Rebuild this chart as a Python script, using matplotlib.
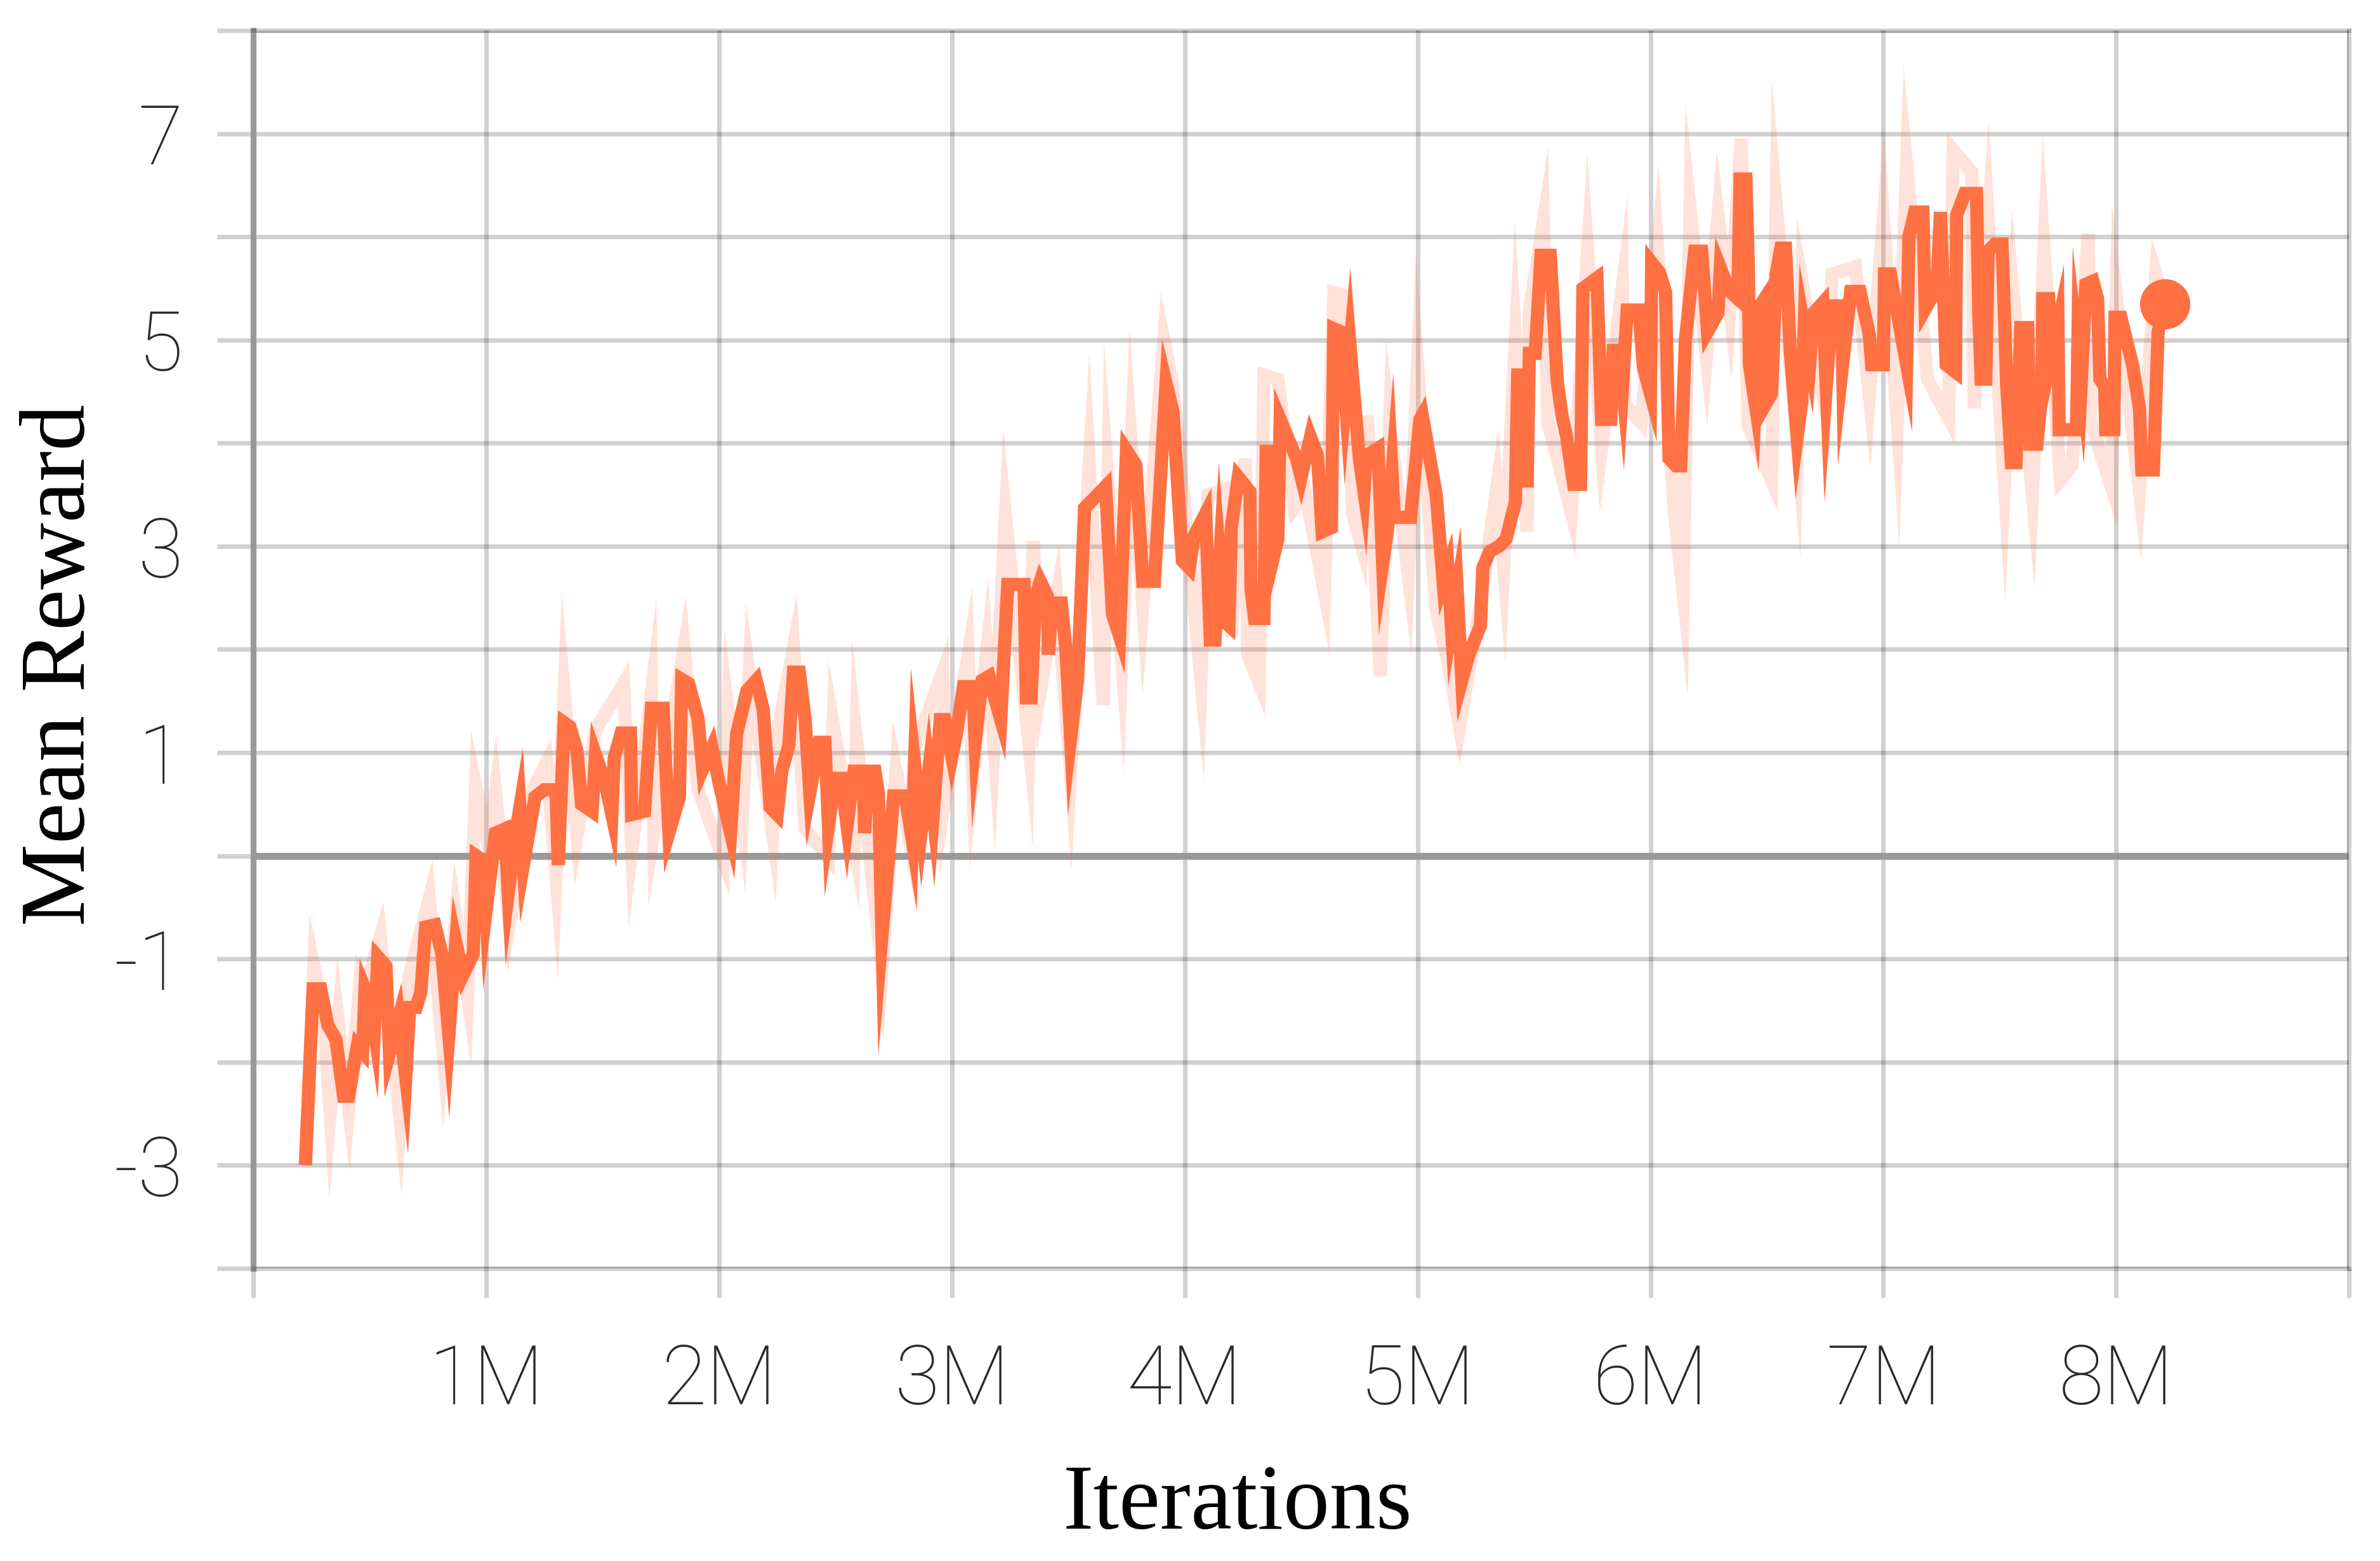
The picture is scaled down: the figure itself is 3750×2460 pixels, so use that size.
import matplotlib
matplotlib.use("Agg")
import matplotlib.pyplot as plt
from matplotlib.ticker import FixedLocator, FuncFormatter

# smoothed curve, x in millions of iterations
steps = [0.224, 0.257, 0.29, 0.32, 0.355, 0.388, 0.41, 0.447, 0.47, 0.48, 0.50, 0.52, 0.535,
         0.57, 0.585, 0.625, 0.655, 0.672, 0.70, 0.72, 0.74, 0.78, 0.81, 0.84, 0.87, 0.90,
         0.945, 0.957, 0.99, 1.0, 1.04, 1.08, 1.095, 1.13, 1.145, 1.16, 1.21, 1.25, 1.30,
         1.31, 1.335, 1.36, 1.39, 1.41, 1.455, 1.47, 1.51, 1.54, 1.55, 1.58, 1.62, 1.625,
         1.68, 1.71, 1.76, 1.785, 1.83, 1.84, 1.87, 1.91, 1.93, 1.97, 2.0, 2.05,
         2.076, 2.12, 2.16, 2.19, 2.22, 2.25, 2.27, 2.30, 2.32, 2.345, 2.37, 2.39, 2.43,
         2.455, 2.47, 2.50, 2.525, 2.55, 2.58, 2.62, 2.625, 2.64, 2.67, 2.685, 2.70, 2.72,
         2.75, 2.80, 2.83, 2.84, 2.87, 2.90, 2.92, 2.95, 2.97, 3.0, 3.02, 3.05, 3.09, 3.10,
         3.13, 3.16, 3.18, 3.21, 3.24, 3.31, 3.32, 3.34, 3.36, 3.38, 3.41, 3.415, 3.43,
         3.47, 3.49, 3.51, 3.54, 3.57, 3.66, 3.69, 3.72, 3.75, 3.79, 3.82, 3.87, 3.92, 3.95,
         3.99, 4.02, 4.04, 4.09, 4.11, 4.13, 4.15, 4.17, 4.19, 4.20, 4.23, 4.28, 4.285,
         4.30, 4.34, 4.35, 4.38, 4.385, 4.40, 4.41, 4.48, 4.50, 4.54, 4.57, 4.59, 4.63,
         4.64, 4.67, 4.69, 4.71, 4.75, 4.77, 4.78, 4.83, 4.85, 4.87, 4.89, 4.90, 4.97,
         5.01, 5.02, 5.08, 5.11, 5.13, 5.145, 5.17, 5.19, 5.22, 5.245, 5.27, 5.28, 5.31,
         5.35, 5.38, 5.42, 5.43, 5.455, 5.47, 5.48, 5.505, 5.53, 5.57, 5.60, 5.62, 5.64,
         5.67, 5.70, 5.71, 5.77, 5.79, 5.83, 5.84, 5.865, 5.88, 5.90, 5.95, 5.97,
         6.00, 6.005, 6.04, 6.065, 6.08, 6.11, 6.13, 6.15, 6.19, 6.22, 6.245, 6.29, 6.30,
         6.34, 6.375, 6.385, 6.41, 6.42, 6.425, 6.45, 6.47, 6.49, 6.50, 6.52, 6.54, 6.56,
         6.58, 6.60, 6.63, 6.65, 6.66, 6.685, 6.70, 6.74, 6.755, 6.78, 6.82, 6.825, 6.86,
         6.90, 6.94, 6.95, 7.00, 7.005, 7.03, 7.06, 7.10, 7.11, 7.135, 7.17, 7.18, 7.23,
         7.245, 7.27, 7.31, 7.315, 7.35, 7.40, 7.41, 7.42, 7.44, 7.45, 7.48, 7.51, 7.53,
         7.55, 7.57, 7.59, 7.62, 7.63, 7.66, 7.68, 7.685, 7.71, 7.72, 7.75, 7.755, 7.83,
         7.835, 7.85, 7.87, 7.90, 7.92, 7.93, 7.95, 7.955, 7.99, 7.995, 8.02, 8.07, 8.10,
         8.11, 8.16, 8.18, 8.21]
reward = [-3.0, -1.29, -1.29, -1.64, -1.78, -2.33, -2.33, -1.84, -1.90, -1.29, -1.40, -1.70, -0.98,
          -1.07, -1.91, -1.57, -2.15, -1.47, -1.47, -1.32, -0.69, -0.67, -0.95, -1.74, -0.84, -1.16,
          -0.95, 0.0, -0.05, -0.53, 0.22, 0.26, -0.36, 0.26, 0.47, -0.09, 0.57, 0.64, 0.64,
          -0.09, 1.29, 1.25, 1.02, 0.50, 0.43, 0.98, 0.72, 0.40, 0.95, 1.19, 1.19, 0.40,
          0.43, 1.43, 1.43, 0.22, 0.57, 1.71, 1.67, 1.33, 0.84, 1.05, 0.71, 0.22,
          1.18, 1.60, 1.70, 1.42, 0.47, 0.40, 0.82, 1.07, 1.78, 1.78, 1.32, 0.61, 1.10,
          1.10, 0.29, 0.75, 0.75, 0.29, 0.82, 0.82, 0.22, 0.82, 0.82, 0.60, -0.77, -0.24,
          0.58, 0.58, 0.15, 0.89, 0.26, 0.82, 0.40, 1.32, 1.32, 0.96, 1.18, 1.64, 1.64, 1.10,
          1.70, 1.74, 1.56, 1.32, 2.63, 2.63, 1.53, 1.53, 2.52, 2.66, 2.52, 1.95, 2.45,
          2.45, 2.00, 1.14, 1.70, 3.37, 3.58, 2.34, 2.13, 3.93, 3.79, 2.66, 2.66, 4.58, 4.30,
          2.86, 2.79, 3.10, 3.32, 2.09, 2.09, 2.86, 2.27, 2.23, 3.18, 3.67, 3.53, 2.58,
          2.30, 2.30, 3.92, 3.92, 2.93, 3.07, 4.23, 3.85, 3.67, 4.06, 3.88, 3.14, 3.18,
          5.11, 5.08, 4.42, 4.94, 3.85, 3.53, 3.88, 3.95, 2.83, 3.14, 3.71, 3.28, 3.28,
          4.23, 4.27, 3.50, 2.65, 2.79, 2.23, 2.58, 1.70, 1.95, 2.09, 2.23, 2.79, 2.95,
          3.00, 3.07, 3.43, 4.66, 4.66, 3.57, 4.87, 4.87, 5.82, 5.82, 4.59, 4.27, 4.06,
          3.60, 3.60, 5.50, 5.60, 4.23, 4.23, 4.90, 4.90, 4.55, 5.29, 5.29, 4.73,
          4.48, 5.75, 5.65, 5.46, 3.85, 3.78, 3.78, 5.00, 5.86, 5.86, 5.08, 5.26, 5.70,
          5.47, 5.40, 6.56, 6.56, 5.75, 4.76, 4.38, 5.33, 5.40, 4.40, 4.48, 5.64, 5.89,
          5.89, 4.90, 4.06, 4.40, 5.12, 4.80, 5.26, 5.36, 4.55, 5.33, 5.33, 4.76, 5.47,
          5.47, 5.05, 4.76, 4.76, 5.64, 5.64, 5.26, 4.76, 6.00, 6.24, 6.24, 5.30, 5.50,
          6.24, 4.76, 4.69, 6.21, 6.42, 6.42, 5.26, 4.62, 4.62, 5.86, 5.93, 5.93, 4.55,
          3.81, 3.81, 5.12, 5.12, 3.99, 3.99, 4.48, 5.40, 5.40, 4.83, 5.15, 4.13, 4.13,
          4.90, 4.60, 5.54, 5.57, 5.40, 4.62, 4.55, 4.13, 4.13, 5.22, 5.22, 4.76, 4.34,
          3.74, 3.74, 5.08, 5.35]

# raw (unsmoothed) curve drawn faint underneath
raw_steps = [0.224, 0.26, 0.30, 0.33, 0.365, 0.41, 0.46, 0.48, 0.546, 0.63, 0.67, 0.756, 0.816,
             0.87, 0.92, 0.955, 1.01, 1.04, 1.10, 1.20, 1.26, 1.30, 1.335, 1.39, 1.47, 1.59,
             1.625, 1.71, 1.72, 1.85, 1.91, 2.02, 2.04, 2.10, 2.13, 2.23, 2.25, 2.32, 2.37,
             2.47, 2.49, 2.58, 2.59, 2.70, 2.76, 2.82, 2.84, 2.96, 2.97, 3.07, 3.09, 3.15,
             3.18, 3.23, 3.33, 3.35, 3.38, 3.45, 3.51, 3.59, 3.65, 3.67, 3.73, 3.77, 3.82,
             3.91, 3.95, 4.07, 4.10, 4.19, 4.20, 4.26, 4.27, 4.32, 4.34, 4.40, 4.47, 4.52,
             4.60, 4.64, 4.69, 4.72, 4.76, 4.785, 4.84, 4.88, 4.96, 5.00, 5.08, 5.13, 5.18,
             5.27, 5.34, 5.37, 5.42, 5.47, 5.48, 5.54, 5.56, 5.66, 5.73, 5.79, 5.88, 5.89,
             5.96, 6.03, 6.10, 6.14, 6.17, 6.24, 6.29, 6.34, 6.39, 6.42, 6.52, 6.54, 6.63,
             6.65, 6.75, 6.78, 6.88, 6.94, 7.00, 7.06, 7.10, 7.19, 7.28, 7.30, 7.38, 7.39,
             7.45, 7.52, 7.56, 7.64, 7.69, 7.76, 7.81, 7.88, 7.89, 7.98, 8.00, 8.10, 8.17, 8.21]
raw_reward = [-3.0, -1.07, -1.5, -2.5, -1.6, -2.45, -1.2, -1.3, -0.78, -2.55, -1.16, -0.41, -1.93,
              -0.59, -1.36, 0.69, 0.09, 0.62, -0.67, 0.64, 0.91, -0.19, 1.59, 0.19, 1.22, 1.67,
              0.05, 1.59, 0.22, 2.02, 0.64, -0.05, 1.40, 0.36, 1.78, 0.22, 1.18, 2.02, 0.26,
              -0.02, 1.28, 0.12, 1.14, -1.08, 0.82, 0.12, 1.04, 1.78, 0.54, 1.95, 0.75, 1.99,
              1.07, 3.30, 1.10, 3.05, 1.60, 2.52, 0.79, 3.79, 1.46, 3.65, 1.88, 4.0, 2.41,
              5.0, 4.55, 1.70, 3.50, 3.57, 2.12, 3.85, 1.95, 1.67, 4.66, 4.62, 3.36, 3.50,
              2.55, 5.46, 5.43, 3.32, 3.0, 4.27, 1.74, 4.20, 2.72, 4.76, 2.37, 1.88, 1.25,
              2.44, 3.57, 2.79, 5.0, 3.14, 5.29, 6.15, 4.20, 3.32, 5.85, 3.95, 5.53, 4.37,
              4.2, 5.89, 3.39, 2.55, 6.28, 4.83, 6.21, 5.29, 6.95, 4.17, 3.64, 6.31, 3.99,
              5.57, 4.34, 5.64, 5.71, 4.45, 6.17, 4.20, 6.70, 4.62, 4.24, 6.84, 6.63, 4.34,
              6.17, 3.60, 5.40, 3.50, 5.89, 3.64, 3.78, 6.03, 4.20, 3.57, 5.43, 3.53, 5.64, 5.35]

x_ticks = [0, 1, 2, 3, 4, 5, 6, 7, 8, 9]
x_labels = {1: '1M', 2: '2M', 3: '3M', 4: '4M', 5: '5M', 6: '6M', 7: '7M', 8: '8M'}
y_ticks = list(range(-4, 9))
y_labels = {-3: '-3', -1: '-1', 1: '1', 3: '3', 5: '5', 7: '7'}

orange = '#ff7043'
grid_c = (0, 0, 0, 0.18)

fig = plt.figure(figsize=(12.5, 8.2), dpi=300)
ax = fig.add_axes([0.1064, 0.1874, 0.8806, 0.7931])
ax.set_xlim(0, 9)
ax.set_ylim(-4, 8)

ax.xaxis.set_major_locator(FixedLocator(x_ticks))
ax.yaxis.set_major_locator(FixedLocator(y_ticks))
ax.xaxis.set_major_formatter(FuncFormatter(lambda v, p: x_labels.get(int(round(v)), '')))
ax.yaxis.set_major_formatter(FuncFormatter(lambda v, p: y_labels.get(int(round(v)), '')))
ax.grid(True, color='black', alpha=0.18, linewidth=1.7)
ax.set_axisbelow(True)
ax.tick_params(axis='y', length=13.7, width=1.7, color=grid_c, pad=13,
               labelsize=31, labelcolor='#2a2a2a')
ax.tick_params(axis='x', length=11, width=1.7, color=grid_c, pad=17,
               labelsize=31, labelcolor='#2a2a2a')
for lab in ax.get_xticklabels() + ax.get_yticklabels():
    lab.set_family('Roboto')
    lab.set_fontweight('light')

for side in ['top', 'right', 'bottom']:
    ax.spines[side].set_color(grid_c)
    ax.spines[side].set_linewidth(1.7)
ax.spines['left'].set_color('#999999')
ax.spines['left'].set_linewidth(2.2)
ax.axhline(0, color='#999999', linewidth=2.6, zorder=1.5)

ax.plot(raw_steps, raw_reward, color=orange, alpha=0.2, linewidth=5.0,
        solid_joinstyle='miter', solid_capstyle='butt', zorder=2)
ax.plot(steps, reward, color=orange, linewidth=5.0,
        solid_joinstyle='miter', solid_capstyle='butt', zorder=3)
ax.plot(steps[-1], reward[-1], 'o', color=orange, markersize=18, zorder=4)

fig.text(0.026, 0.574, 'Mean Reward', rotation=90, ha='center', va='center',
         family='Liberation Serif', fontsize=35)
fig.text(0.52, 0.035, 'Iterations', ha='center', va='center',
         family='Liberation Serif', fontsize=35)

plt.savefig('out.png', dpi=300)
plt.close('all')
